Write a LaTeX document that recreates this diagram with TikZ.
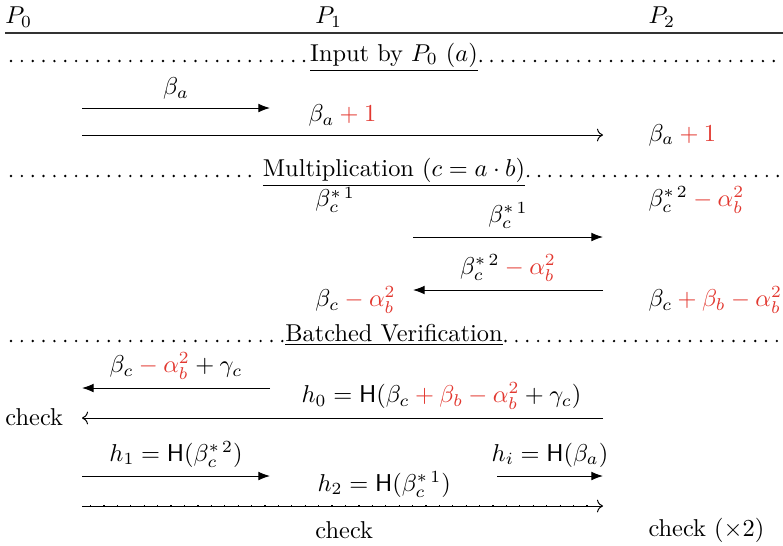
\documentclass[tikz,border=0pt]{standalone}
\usepackage{amsmath,amssymb}
\usepackage{xcolor}
\usepackage{tikz}
\usetikzlibrary{arrows.meta, positioning, calc}
\definecolor{mask}{RGB}{226,56,48}
\newcommand{\rd}[1]{{\color{mask}#1}}

\begin{document}
\begin{tikzpicture}[x=0.41pt, y=-0.41pt,
  msg/.style={-Latex},
  longmsg/.style={->},
  sepdots/.style={line width=1.1pt, line cap=round, dash pattern=on 0pt off 4.45pt},
  state/.style={anchor=west, inner sep=0pt}]
\useasboundingbox (0,0) rectangle (783,545);
% parties
\foreach \i/\x in {0/5,1/315,2/648}
  \node[state] (p\i) at (\x,17) {$P_\i$};
\coordinate (ruleL) at (5,33);
\coordinate (ruleR) at (783,33);
\draw[line width=0.8pt, black!80] (ruleL) -- (ruleR);
% phases
\foreach \y/\txt [count=\k] in {61/{Input by $P_0$ $(a)$},176/{Multiplication $(c=a\cdot b)$},341/{Batched Verification}} {
  \node[anchor=base, inner sep=1pt] (ph\k) at (394,\y) {\underline{\txt}};
  \coordinate (phL\k) at (11,\y);
  \coordinate (phR\k) at (783,\y);
  \draw[sepdots] (phL\k) -- (ph\k.base west);
  \draw[sepdots] (ph\k.base east) -- (phR\k);
}
% local values
\foreach \x/\y/\txt [count=\k] in {648/135/{$\beta_a\rd{{}+1}$},
    315/200/{$\beta_c^{*\,1}$}, 648/200/{$\beta_c^{*\,2}\rd{{}-\alpha_b^2}$},
    315/300/{$\beta_c\rd{{}-\alpha_b^2}$}, 648/300/{$\beta_c\rd{{}+\beta_b-\alpha_b^2}$},
    5/417/{check}, 315/530/{check}, 648/530/{check $(\times2)$}}
  \node[state] (st\k) at (\x,\y) {\txt};
% message end points
\foreach \n/\x/\y in {s0/82/108, s1/270/108, t0/82/135, t1/603/135,
    u0/413/237, u1/603/237, v0/603/290, v1/413/290,
    w0/270/388, w1/82/388, x0/603/418, x1/82/418,
    y0/82/476, y1/270/476, z0/497/476, z1/603/476, q0/82/506, q1/603/506}
  \coordinate (\n) at (\x,\y);
% input
\draw[msg] (s0) -- node[above] {$\beta_a$} (s1);
\draw[longmsg] (t0) -- node[above] {$\beta_a\rd{{}+1}$} (t1);
% multiplication
\draw[msg] (u0) -- node[above] {$\beta_c^{*\,1}$} (u1);
\draw[msg] (v0) -- node[above] {$\beta_c^{*\,2}\rd{{}-\alpha_b^2}$} (v1);
% verification
\draw[msg] (w0) -- node[above] {$\beta_c\rd{{}-\alpha_b^2}+\gamma_c$} (w1);
\draw[longmsg] (x0) -- node[above, pos=0.31] {$h_0=\mathsf{H}(\beta_c\rd{{}+\beta_b-\alpha_b^2}+\gamma_c)$} (x1);
\draw[msg] (y0) -- node[above] {$h_1=\mathsf{H}(\beta_c^{*\,2})$} (y1);
\draw[msg] (z0) -- node[above] {$h_i=\mathsf{H}(\beta_a)$} (z1);
\draw[longmsg] (q0) -- node[above, pos=0.58] {$h_2=\mathsf{H}(\beta_c^{*\,1})$} (q1);
\draw[line width=1pt, dash pattern=on 0.5pt off 5pt] ($(q0)+(8,0)$) -- ($(q1)+(-8,0)$);
\end{tikzpicture}
\end{document}
